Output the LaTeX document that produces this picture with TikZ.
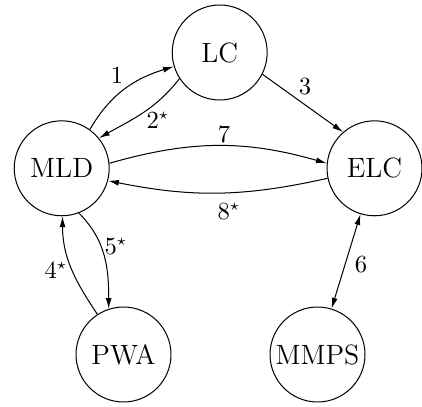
\documentclass[tikz,border=0pt]{standalone}
\usetikzlibrary{arrows.meta}
\begin{document}
\begin{tikzpicture}[x=0.4444pt,y=0.4444pt,
  state/.style={circle,draw,line width=0.45pt,minimum size=42.2pt,inner sep=0pt,font=\fontsize{12.4}{15}\selectfont},
  edge/.style={line width=0.45pt,-{Latex[length=4.8pt,width=2.6pt]}},
  lbl/.style={inner sep=0pt,font=\fontsize{10.5}{12}\selectfont}]
\useasboundingbox (0,0) rectangle (422,406);
\node[state] (LC) at (219.7,353.5) {LC};
\node[state] (MLD) at (61.7,237.7) {MLD};
\node[state] (ELC) at (374.5,237.7) {ELC};
\node[state] (PWA) at (123.5,51.5) {PWA};
\node[state] (MMPS) at (317.5,51.5) {MMPS};
\draw[edge] (MLD.54) to[out=60,in=197] (LC.197);
\draw[edge] (LC.213) to[out=232,in=29.5] (MLD.39.5);
\draw[edge] (LC.-27) -- (ELC.131);
\draw[edge] (MLD.6) to[bend left=16] (ELC.174);
\draw[edge] (ELC.192) to[bend left=12] (MLD.-15);
\draw[edge] (MLD.-69) to[out=-45,in=90] (PWA.108);
\draw[edge] (PWA.123) to[out=124,in=-90] (MLD.-89);
\draw[edge,{Latex[length=4.8pt,width=2.6pt]}-{Latex[length=4.8pt,width=2.6pt]}] (ELC) -- (MMPS);
\node[lbl] (l1) at (117,330) {$1$};
\node[lbl] (l2) at (158,286) {$2^\star$};
\node[lbl] (l3) at (305,319) {$3$};
\node[lbl] (l7) at (224,271) {$7$};
\node[lbl] (l8) at (229,195) {$8^\star$};
\node[lbl] (l5) at (116,160) {$5^\star$};
\node[lbl] (l4) at (56,136) {$4^\star$};
\node[lbl] (l6) at (361,141) {$6$};
\end{tikzpicture}
\end{document}
